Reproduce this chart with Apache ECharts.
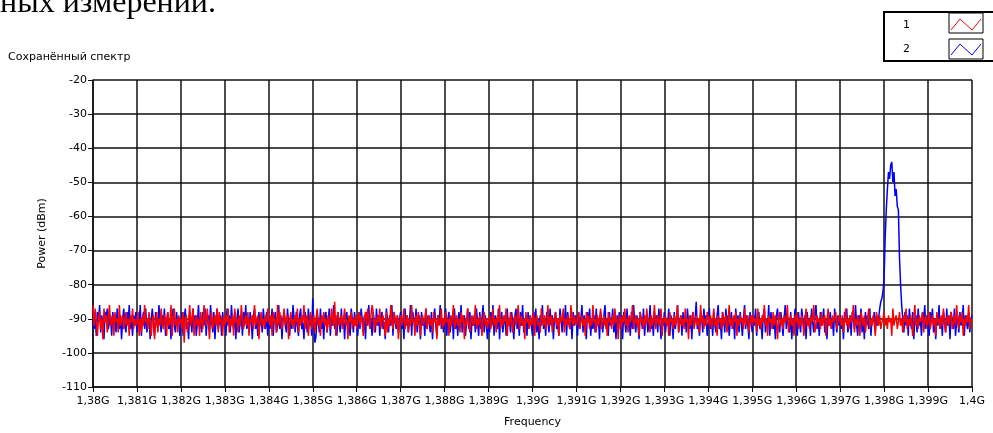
<!DOCTYPE html>
<html>
<head>
<meta charset="utf-8">
<script src="https://cdn.jsdelivr.net/npm/echarts@6/dist/echarts.min.js"></script>
<style>
  html, body { margin: 0; padding: 0; background: #fff; }
  #chart { width: 993px; height: 433px; }
</style>
</head>
<body>
<div id="chart"></div>
<script>
// frequency axis in MHz; each row below covers 1 MHz, one sample per 0.025 MHz
var startFreq = 1380;
var stepFreq = 0.025;
var yTicks = [-110, -100, -90, -80, -70, -60, -50, -40, -30, -20];

// series "1" (red), dBm
var trace1 = [
  [-86,-92,-87,-91,-95,-90,-88,-93,-90,-96,-87,-91,-89,-94,-90,-86,-92,-91,-89,-95,-88,-91,-90,-94,-86,-92,-90,-89,-93,-91,-88,-92,-90,-95,-89,-91,-87,-93,-90,-92],
  [-91,-88,-95,-90,-94,-89,-92,-86,-91,-90,-93,-88,-92,-95,-90,-89,-96,-91,-88,-94,-90,-92,-87,-91,-93,-89,-90,-95,-88,-92,-91,-86,-95,-90,-87,-92,-90,-94,-89,-91],
  [-90,-93,-88,-97,-90,-89,-94,-91,-86,-92,-90,-87,-95,-91,-89,-92,-90,-95,-88,-91,-93,-86,-90,-92,-87,-91,-96,-90,-88,-93,-91,-89,-92,-87,-94,-88,-91,-90,-95,-89],
  [-92,-89,-91,-87,-94,-90,-92,-89,-95,-87,-91,-90,-94,-89,-92,-86,-90,-93,-91,-89,-92,-88,-95,-90,-91,-89,-93,-86,-92,-90,-89,-96,-91,-88,-92,-90,-93,-89,-91,-87],
  [-90,-92,-89,-95,-88,-91,-90,-94,-86,-92,-88,-91,-93,-90,-87,-92,-90,-89,-96,-91,-88,-92,-90,-93,-89,-91,-87,-94,-90,-92,-89,-91,-86,-93,-90,-89,-95,-91,-88,-93],
  [-91,-89,-94,-90,-87,-92,-90,-95,-89,-91,-88,-92,-90,-94,-89,-91,-93,-87,-90,-92,-85,-95,-90,-88,-92,-91,-89,-93,-90,-87,-92,-90,-96,-89,-91,-88,-93,-90,-92,-89],
  [-93,-90,-88,-92,-89,-91,-95,-90,-88,-92,-87,-90,-93,-89,-86,-88,-94,-90,-92,-89,-91,-87,-93,-90,-89,-92,-95,-88,-94,-90,-92,-86,-91,-93,-88,-90,-92,-89,-96,-91],
  [-89,-92,-90,-87,-93,-91,-89,-94,-90,-92,-86,-91,-90,-95,-89,-92,-88,-91,-95,-90,-89,-92,-90,-87,-93,-91,-89,-92,-90,-94,-88,-91,-90,-96,-89,-92,-91,-87,-93,-90],
  [-92,-88,-91,-90,-95,-89,-92,-90,-86,-93,-91,-89,-92,-90,-94,-88,-91,-89,-96,-90,-92,-87,-91,-94,-90,-89,-92,-91,-86,-93,-90,-92,-89,-91,-95,-90,-88,-92,-90,-93],
  [-90,-89,-93,-91,-87,-92,-90,-94,-89,-91,-86,-93,-90,-92,-89,-91,-87,-95,-90,-92,-88,-91,-94,-90,-89,-92,-90,-86,-93,-91,-89,-92,-90,-96,-88,-91,-90,-93,-89,-92],
  [-91,-88,-95,-90,-89,-92,-91,-94,-87,-90,-92,-89,-93,-91,-86,-92,-90,-89,-94,-90,-91,-88,-92,-90,-95,-89,-91,-90,-87,-94,-90,-92,-89,-91,-93,-86,-90,-92,-89,-91],
  [-92,-90,-88,-93,-91,-89,-92,-90,-95,-88,-91,-89,-93,-90,-92,-86,-91,-90,-94,-89,-92,-90,-87,-93,-91,-89,-92,-90,-95,-88,-91,-90,-93,-89,-92,-87,-91,-90,-96,-89],
  [-90,-93,-89,-91,-87,-92,-90,-94,-89,-91,-90,-86,-93,-91,-89,-92,-90,-95,-88,-91,-90,-93,-89,-92,-87,-91,-90,-94,-89,-92,-90,-86,-93,-91,-89,-92,-90,-87,-95,-90],
  [-91,-89,-92,-90,-95,-88,-91,-90,-93,-89,-92,-90,-86,-94,-91,-89,-92,-90,-93,-87,-91,-90,-96,-89,-92,-90,-88,-93,-91,-89,-92,-90,-94,-86,-91,-89,-93,-90,-92,-88],
  [-90,-92,-89,-93,-91,-87,-92,-90,-95,-89,-91,-90,-93,-88,-92,-90,-89,-94,-91,-86,-92,-90,-93,-89,-91,-88,-95,-90,-92,-89,-91,-90,-93,-87,-92,-90,-89,-94,-91,-89],
  [-92,-89,-91,-90,-94,-87,-92,-90,-93,-89,-91,-86,-92,-90,-95,-89,-91,-90,-93,-88,-92,-89,-91,-96,-90,-88,-92,-90,-93,-89,-91,-90,-86,-94,-91,-89,-92,-90,-95,-89],
  [-91,-88,-93,-90,-92,-89,-91,-95,-90,-87,-92,-90,-93,-89,-91,-90,-86,-94,-92,-89,-91,-90,-93,-88,-92,-90,-89,-95,-91,-87,-92,-90,-93,-89,-91,-90,-88,-93,-91,-89],
  [-90,-92,-89,-94,-91,-87,-92,-90,-93,-89,-91,-90,-86,-94,-90,-92,-89,-91,-95,-88,-90,-92,-89,-94,-91,-90,-87,-93,-90,-92,-89,-91,-95,-88,-90,-92,-89,-93,-91,-90],
  [-88,-92,-90,-93,-89,-91,-90,-95,-87,-92,-90,-89,-93,-91,-88,-92,-90,-94,-89,-91,-87,-93,-90,-92,-89,-91,-95,-90,-86,-92,-90,-93,-89,-91,-90,-88,-94,-91,-89,-92],
  [-90,-88,-93,-91,-89,-92,-90,-95,-88,-91,-90,-93,-89,-92,-87,-91,-94,-90,-89,-92,-90,-88,-93,-91,-89,-92,-86,-90,-93,-89,-91,-88,-95,-90,-92,-89,-91,-86,-93,-90]
];
var trace1End = -91;

// series "2" (blue), dBm, carrier near 1,3981G
var trace2 = [
  [-87,-93,-90,-95,-88,-91,-86,-94,-89,-92,-96,-88,-90,-87,-93,-91,-89,-95,-88,-92,-90,-94,-87,-91,-93,-89,-96,-90,-87,-92,-94,-88,-91,-86,-93,-90,-95,-89,-92,-88],
  [-94,-89,-91,-86,-95,-90,-88,-93,-87,-94,-91,-89,-96,-90,-87,-92,-95,-88,-91,-93,-86,-90,-94,-89,-92,-87,-95,-91,-88,-93,-90,-96,-89,-87,-92,-94,-88,-91,-90,-95],
  [-92,-88,-95,-90,-87,-93,-91,-96,-88,-90,-94,-87,-92,-89,-95,-91,-86,-93,-90,-94,-88,-92,-87,-95,-90,-89,-93,-86,-91,-94,-88,-96,-90,-87,-93,-91,-89,-95,-88,-92],
  [-90,-95,-87,-92,-89,-94,-86,-91,-93,-88,-96,-90,-87,-94,-91,-89,-95,-88,-92,-86,-93,-90,-94,-88,-91,-96,-89,-87,-93,-90,-95,-88,-92,-89,-94,-87,-91,-93,-88,-95],
  [-89,-93,-91,-87,-95,-90,-88,-94,-92,-86,-93,-89,-96,-90,-88,-92,-94,-87,-91,-95,-89,-93,-86,-90,-94,-88,-92,-95,-89,-87,-93,-91,-96,-88,-90,-94,-87,-92,-89,-95],
  [-84,-92,-97,-95,-88,-91,-94,-87,-93,-90,-96,-89,-88,-94,-91,-87,-95,-90,-92,-86,-93,-89,-95,-88,-91,-94,-87,-92,-90,-96,-89,-88,-93,-91,-95,-87,-90,-94,-88,-92],
  [-91,-95,-88,-93,-87,-90,-94,-89,-96,-88,-92,-86,-93,-90,-95,-88,-91,-94,-87,-92,-89,-95,-90,-88,-93,-91,-96,-87,-90,-94,-89,-92,-86,-95,-88,-91,-93,-89,-94,-90],
  [-88,-93,-90,-96,-87,-92,-89,-94,-91,-86,-95,-88,-90,-93,-87,-94,-91,-89,-96,-88,-92,-90,-95,-87,-93,-89,-91,-94,-88,-96,-90,-87,-92,-95,-89,-91,-86,-93,-90,-94],
  [-92,-87,-95,-90,-88,-94,-91,-89,-96,-87,-93,-90,-95,-88,-92,-86,-94,-90,-89,-95,-91,-87,-93,-88,-96,-90,-92,-89,-94,-87,-91,-95,-88,-93,-90,-86,-94,-89,-92,-96],
  [-90,-94,-88,-92,-86,-95,-89,-91,-93,-87,-96,-90,-88,-94,-91,-89,-95,-87,-92,-90,-94,-88,-91,-96,-89,-87,-93,-90,-95,-88,-92,-86,-94,-90,-91,-95,-88,-93,-89,-92],
  [-95,-88,-91,-87,-94,-90,-96,-89,-92,-86,-93,-90,-95,-88,-91,-94,-87,-92,-89,-96,-90,-88,-93,-91,-95,-87,-90,-94,-89,-92,-86,-95,-88,-91,-93,-90,-96,-88,-92,-89],
  [-91,-95,-88,-93,-90,-86,-94,-89,-92,-96,-88,-91,-87,-95,-90,-93,-89,-94,-87,-92,-90,-96,-88,-91,-94,-89,-86,-93,-90,-95,-88,-92,-91,-87,-94,-90,-96,-89,-92,-88],
  [-93,-89,-96,-88,-91,-94,-87,-92,-90,-95,-88,-93,-86,-91,-94,-89,-92,-96,-88,-90,-93,-87,-95,-90,-89,-94,-91,-86,-93,-90,-95,-88,-92,-89,-94,-87,-91,-96,-90,-92],
  [-88,-94,-90,-92,-87,-95,-89,-91,-96,-88,-93,-90,-86,-94,-91,-89,-95,-88,-92,-90,-94,-87,-91,-93,-89,-96,-88,-92,-90,-85,-93,-91,-95,-88,-90,-94,-87,-92,-89,-95],
  [-91,-87,-93,-90,-95,-88,-92,-94,-89,-86,-93,-91,-96,-88,-90,-94,-87,-92,-89,-95,-91,-88,-93,-90,-96,-87,-92,-89,-94,-88,-91,-95,-90,-86,-93,-89,-92,-96,-88,-91],
  [-94,-89,-92,-87,-95,-90,-88,-93,-91,-96,-89,-87,-94,-90,-92,-86,-95,-88,-91,-93,-90,-96,-89,-87,-92,-94,-88,-91,-95,-90,-86,-93,-89,-92,-94,-88,-96,-90,-91,-87],
  [-92,-95,-88,-91,-94,-87,-90,-93,-89,-96,-88,-92,-90,-95,-87,-91,-94,-89,-86,-93,-90,-95,-88,-92,-91,-87,-94,-90,-96,-89,-92,-88,-93,-90,-95,-87,-91,-94,-89,-92],
  [-89,-93,-90,-96,-88,-91,-87,-94,-92,-89,-95,-88,-90,-93,-86,-92,-95,-89,-91,-87,-94,-90,-96,-88,-92,-89,-93,-87,-95,-90,-91,-88,-94,-89,-92,-90,-87,-85,-84,-82],
  [-78,-66,-58,-52,-47,-49,-45,-44,-50,-47,-54,-52,-57,-58,-72,-80,-86,-90,-94,-88,-92,-89,-95,-87,-91,-93,-88,-96,-90,-89,-94,-87,-92,-90,-95,-88,-91,-86,-93,-89],
  [-92,-95,-88,-91,-87,-94,-90,-96,-89,-92,-86,-93,-90,-95,-88,-91,-94,-87,-92,-89,-96,-88,-90,-93,-87,-95,-91,-89,-94,-88,-92,-90,-86,-95,-89,-91,-93,-88,-94,-90]
];
var trace2End = -89;

// one [MHz, dBm] pair per sample, row r starts at startFreq + r
function toPairs(rows, last) {
  var out = [];
  rows.forEach(function (row, r) {
    row.forEach(function (v, j) { out.push([startFreq + r + j * stepFreq, v]); });
  });
  out.push([startFreq + rows.length, last]);
  return out;
}

var font = 'DejaVu Sans';
var gridColor = '#111';

var chart = echarts.init(document.getElementById('chart'));

var option = {
  backgroundColor: '#fff',
  animation: false,
  grid: { left: 93, right: 21, top: 80, bottom: 41 },
  xAxis: {
    type: 'value',
    min: 1380, max: 1400, interval: 1,
    name: 'Frequency',
    nameLocation: 'middle',
    nameGap: 30,
    nameTextStyle: { color: '#000', fontSize: 11, fontFamily: font },
    axisLine: { show: true, lineStyle: { color: gridColor, width: 1.5 } },
    axisTick: { show: true, length: 5, lineStyle: { color: gridColor } },
    axisLabel: {
      color: '#000', fontSize: 11, fontFamily: font, margin: 9, hideOverlap: false,
      formatter: function (v) { return String(v / 1000).replace('.', ',') + 'G'; }
    },
    splitLine: { show: true, lineStyle: { color: gridColor, width: 1.5 } }
  },
  yAxis: {
    type: 'value',
    min: yTicks[0], max: yTicks[yTicks.length - 1], interval: 10,
    name: 'Power (dBm)',
    nameLocation: 'middle',
    nameGap: 45,
    nameTextStyle: { color: '#000', fontSize: 11, fontFamily: font },
    axisLine: { show: true, lineStyle: { color: gridColor, width: 1.5 } },
    axisTick: { show: true, length: 5, lineStyle: { color: gridColor } },
    axisLabel: { color: '#000', fontSize: 11, fontFamily: font, margin: 6 },
    splitLine: { show: true, lineStyle: { color: gridColor, width: 1.5 } }
  },
  series: [
    {
      name: '2', type: 'line', data: toPairs(trace2, trace2End), showSymbol: false,
      lineStyle: { color: '#0000ff', width: 1.5 }, z: 2
    },
    {
      name: '1', type: 'line', data: toPairs(trace1, trace1End), showSymbol: false,
      lineStyle: { color: '#ff0000', width: 1.5 }, z: 3
    }
  ],
  graphic: [
    { type: 'text', left: 0, top: -12,
      style: { text: 'ных измерений.', font: '32px "Liberation Serif"', fill: '#000' } },
    { type: 'text', left: 8, top: 52,
      style: { text: 'Сохранённый спектр', font: '11px "DejaVu Sans"', fill: '#000' } },
    // legend box
    { type: 'rect', shape: { x: 884, y: 12, width: 115, height: 49 },
      style: { fill: '#fff', stroke: '#000', lineWidth: 2 } },
    { type: 'text', left: 903, top: 20, style: { text: '1', font: '11px "DejaVu Sans"', fill: '#000' } },
    { type: 'text', left: 903, top: 44, style: { text: '2', font: '11px "DejaVu Sans"', fill: '#000' } },
    { type: 'rect', shape: { x: 949, y: 13, width: 34, height: 20 },
      style: { fill: '#fff', stroke: '#000', lineWidth: 1 } },
    { type: 'rect', shape: { x: 949, y: 39, width: 34, height: 20 },
      style: { fill: '#fff', stroke: '#000', lineWidth: 1 } },
    { type: 'polyline', shape: { points: [[951, 30], [960, 19], [972, 30], [981, 19]] },
      style: { stroke: '#ff0000', lineWidth: 1, fill: null } },
    { type: 'polyline', shape: { points: [[951, 55], [960, 44], [972, 55], [981, 44]] },
      style: { stroke: '#0000ff', lineWidth: 1, fill: null } }
  ]
};

chart.setOption(option);
</script>
</body>
</html>
